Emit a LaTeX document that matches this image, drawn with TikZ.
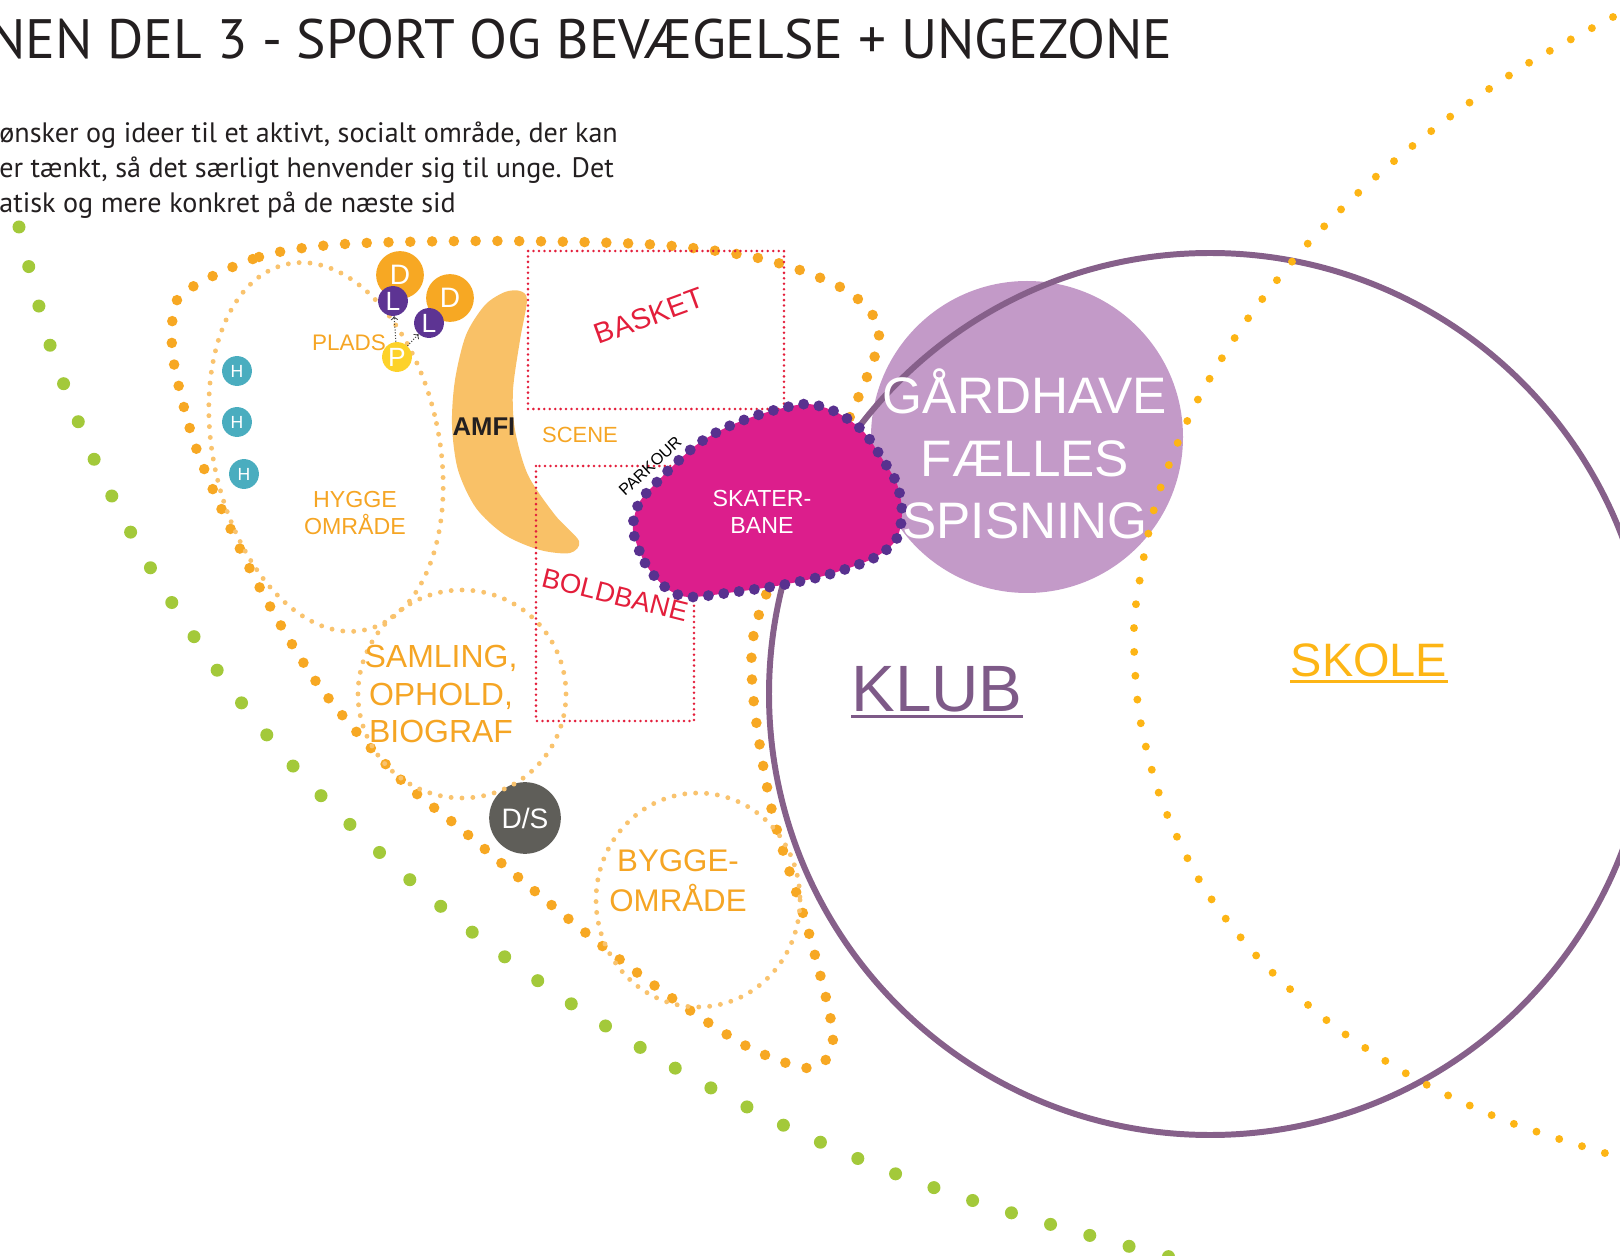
\documentclass[tikz,border=0pt]{standalone}
\usepackage{fontspec}
\setmainfont{Liberation Sans}
\newfontfamily\myriad{PT Sans}

\definecolor{titlegray}{HTML}{231F20}
\definecolor{dotorange}{HTML}{F7A823}
\definecolor{lightorange}{HTML}{F9C36E}
\definecolor{amfiorange}{HTML}{F9C167}
\definecolor{txtorange}{HTML}{F5A524}
\definecolor{skolegold}{HTML}{FDB515}
\definecolor{leafgreen}{HTML}{A3C93A}
\definecolor{klubpurple}{HTML}{86608A}
\definecolor{klubtext}{HTML}{7E5A88}
\definecolor{lilac}{HTML}{C39AC8}
\definecolor{skatepink}{HTML}{DC1E8C}
\definecolor{deeppurple}{HTML}{58318F}
\definecolor{lpurple}{HTML}{5D3493}
\definecolor{pyellow}{HTML}{FDD22A}
\definecolor{hteal}{HTML}{4AADBF}
\definecolor{dsgray}{HTML}{5F5E59}
\definecolor{courtred}{HTML}{E31E3B}

\begin{document}
\begin{tikzpicture}[x=0.02cm, y=-0.02cm,
    greendots/.style={leafgreen, line width=7.4pt, line cap=round, dash pattern=on 0pt off 23.2pt},
    bigdots/.style={dotorange, line width=6pt, line cap=round, dash pattern=on 0pt off 12.4pt},
    smalldots/.style={lightorange, line width=2.8pt, line cap=round, dash pattern=on 0pt off 6.2pt},
    skoledots/.style={skolegold, line width=4.5pt, line cap=round, dash pattern=on 0pt off 13.6pt},
    rimdots/.style={deeppurple, line width=6.2pt, line cap=round, dash pattern=on 0pt off 8.8pt},
    courtline/.style={courtred, line width=1.6pt, line cap=round, dash pattern=on 0pt off 3.1pt},
    badge/.style={circle, inner sep=0pt, text=white},
    zonetext/.style={text=txtorange, align=center},
    arr/.style={->, densely dotted, draw=black!75, line width=0.6pt}]
	\useasboundingbox (0,0) rectangle (1620,1256);

	% outer green arc
	\draw[greendots] plot[smooth] coordinates {(19,227) (50,345) (94,459) (150,567) (217,670) (293,766) (379,852) (472,932) (570,1003) (675,1068) (783,1125) (896,1174) (1012,1213) (1128,1246) (1170,1257)};

	% orange loop round the youth zone
	\draw[bigdots] plot[smooth cycle] coordinates {(182,294) (259,257) (345,244) (500,241) (660,245) (767,260) (847,291) (879,333) (852,412) (764,600) (752,680) (772,811) (810,937) (833,1037) (812,1068) (752,1049) (679,1003) (610,952) (543,898) (461,829) (396,775) (317,683) (252,573) (199,456) (176,374) (172,332)};

	% school line
	\fill[lilac] (1027,437) circle [radius=156];
	\draw[klubpurple, line width=3.4pt] (1210,694) circle [radius=441];
	\draw[skoledots] plot[smooth] coordinates {(1613,17) (1527,64) (1447,119) (1371,181) (1302,250) (1242,327) (1192,411) (1156,502) (1137,597) (1134,646) (1140,719) (1162,802) (1204,888) (1263,963) (1334,1026) (1414,1078) (1501,1119) (1591,1149) (1625,1158)};

	% zones
	\node (ds) at (525,818) [badge, fill=dsgray, minimum size=40.8pt, font=\fontsize{16}{16}\selectfont] {D/S};
	\draw[smalldots, rotate around={12:(326,447)}] (326,447) ellipse [x radius=113, y radius=187];
	\draw[smalldots] (462,694) circle [radius=104];
	\draw[smalldots] (698,900) ellipse [x radius=102, y radius=107];

	\fill[amfiorange] plot[smooth cycle] coordinates {(520,291) (527,300) (520,340) (513,390) (515,430) (528,475) (555,515) (579,541) (570,553) (540,550) (505,535) (476,508) (458,470) (452,425) (455,380) (466,335) (485,305) (505,292)};

	\draw[courtline] (528,251) rectangle (784,409);
	\draw[courtline] (536,466) rectangle (694,721);

	\draw[rimdots, fill=skatepink] plot[smooth cycle] coordinates {(633,530) (645,563) (665,587) (688,597) (735,592) (782,585) (827,575) (872,559) (896,540) (902,512) (897,484) (883,460) (863,431) (836,412) (808,404) (779,409) (752,417) (725,428) (699,443) (678,461) (657,482) (639,503)};

	% markers
	\node (d1) at (400,275) [badge, fill=dotorange, minimum size=27.2pt, font=\fontsize{16}{16}\selectfont] {D};
	\node (d2) at (450,298) [badge, fill=dotorange, minimum size=27.2pt, font=\fontsize{16}{16}\selectfont] {D};
	\node (l1) at (393,301) [badge, fill=lpurple, minimum size=17pt, font=\fontsize{15}{15}\selectfont] {L};
	\node (l2) at (429,323) [badge, fill=lpurple, minimum size=17pt, font=\fontsize{15}{15}\selectfont] {L};
	\node (p) at (397,357) [badge, fill=pyellow, minimum size=17pt, font=\fontsize{15}{15}\selectfont] {P};
	\draw[arr] (p) -- (l1);
	\draw[arr] (p) -- (l2);
	\node (h1) at (237,371) [badge, fill=hteal, minimum size=17pt, font=\fontsize{10}{10}\selectfont] {H};
	\node (h2) at (237,422) [badge, fill=hteal, minimum size=17pt, font=\fontsize{10}{10}\selectfont] {H};
	\node (h3) at (244,474) [badge, fill=hteal, minimum size=17pt, font=\fontsize{10}{10}\selectfont] {H};

	% labels
	\node (title) at (1173,59) [anchor=base east, inner sep=0pt, text=titlegray, font=\myriad\fontsize{31.6}{32}\selectfont] {NEN DEL 3 - SPORT OG BEVÆGELSE + UNGEZONE};
	\node (para1) at (-1,143) [anchor=base west, inner sep=0pt, text=titlegray, font=\myriad\fontsize{16}{19}\selectfont] {ønsker og ideer til et aktivt, socialt område, der kan};
	\node (para2) at (-1,178) [anchor=base west, inner sep=0pt, text=titlegray, font=\myriad\fontsize{16}{19}\selectfont] {er tænkt, så det særligt henvender sig til unge. Det};
	\node (para3) at (-1,213) [anchor=base west, inner sep=0pt, text=titlegray, font=\myriad\fontsize{16}{19}\selectfont] {atisk og mere konkret på de næste sid};

	\node (plads) at (349,343) [zonetext, font=\fontsize{12.8}{14}\selectfont] {PLADS};
	\node (hygge) at (355,513) [zonetext, font=\fontsize{13.2}{15.3}\selectfont] {HYGGE\\OMRÅDE};
	\node (samling) at (441,694) [zonetext, font=\fontsize{18.2}{21.3}\selectfont] {SAMLING,\\OPHOLD,\\BIOGRAF};
	\node (bygge) at (678,881) [zonetext, font=\fontsize{17.8}{22.7}\selectfont] {BYGGE-\\OMRÅDE};
	\node (scene) at (580,435) [zonetext, font=\fontsize{12.5}{14}\selectfont] {SCENE};
	\node (amfi) at (484,427) [text=titlegray, font=\bfseries\fontsize{14.6}{16}\selectfont] {AMFI};
	\node (basket) at (649,316) [rotate=20, text=courtred, font=\fontsize{16.4}{18}\selectfont] {BASKET};
	\node (boldbane) at (615,595) [rotate=-14, text=courtred, font=\fontsize{15.6}{18}\selectfont] {BOLDBANE};
	\node (skate) at (762,512) [text=white, align=center, font=\fontsize{13.2}{15.3}\selectfont] {SKATER-\\BANE};
	\node (parkour) at (650,466) [rotate=43, text=black, font=\fontsize{9.2}{10}\selectfont] {PARKOUR};
	\node (gard) at (1025,454) [text=white, align=center, font=\fontsize{29.2}{35.5}\selectfont] {GÅRDHAVE\\FÆLLES\\SPISNING};

	\node (klub) at (937,711) [anchor=base, inner sep=0pt, text=klubtext, font=\fontsize{37.3}{40}\selectfont] {KLUB};
	\draw[klubtext, line width=1.7pt] ([yshift=-3pt]klub.base west) -- ([yshift=-3pt]klub.base east);
	\node (skole) at (1369,677) [anchor=base, inner sep=0pt, text=skolegold, font=\fontsize{26.7}{30}\selectfont] {SKOLE};
	\draw[skolegold, line width=1.4pt] ([yshift=-2.5pt]skole.base west) -- ([yshift=-2.5pt]skole.base east);
\end{tikzpicture}
\end{document}
